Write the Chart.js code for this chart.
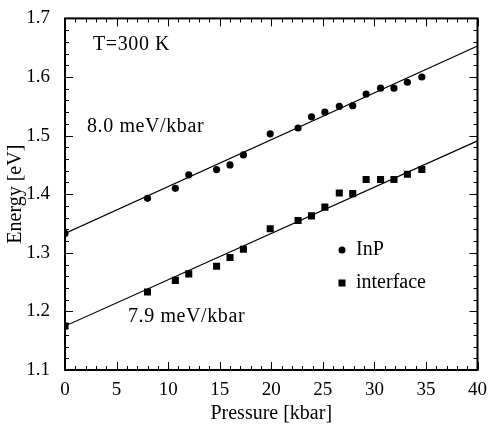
<!DOCTYPE html>
<html>
<head>
<meta charset="utf-8">
<script src="https://cdn.jsdelivr.net/npm/chart.js@4"></script>
<style>
  html, body { margin: 0; padding: 0; background: #fff; }
  #wrap { width: 488px; height: 429px; }
</style>
</head>
<body>
<div id="wrap"><canvas id="mycanvas" width="488" height="429"></canvas></div>
<script>
// pressure (kbar) of each measurement
var pressure = [0, 8.0, 10.7, 12.0, 14.7, 16.0, 17.3, 19.9, 22.6, 23.9, 25.2, 26.6, 27.9, 29.2, 30.6, 31.9, 33.2, 34.6];
// InP gap energy (eV)
var inpEnergy = [1.333, 1.393, 1.410, 1.433, 1.442, 1.450, 1.467, 1.503, 1.513, 1.532, 1.540, 1.550, 1.551, 1.571, 1.581, 1.581, 1.591, 1.600];
// interface transition energy (eV)
var ifEnergy = [1.175, 1.233, 1.253, 1.264, 1.277, 1.292, 1.306, 1.341, 1.355, 1.363, 1.378, 1.402, 1.401, 1.425, 1.425, 1.425, 1.434, 1.442];
// linear fits (8.0 and 7.9 meV/kbar)
var fitPressure = [0, 40];
var inpFit = [1.333, 1.653];
var ifFit = [1.175, 1.491];

var xTicks = [0, 5, 10, 15, 20, 25, 30, 35, 40];
var yTicks = [1.1, 1.2, 1.3, 1.4, 1.5, 1.6, 1.7];

var serif = "'Liberation Serif', 'Times New Roman', serif";

function pts(xs, ys){
	var out = [];
	for (var i in xs) out.push({x: xs[i], y: ys[i]});
	return out;
}

// frame, inward ticks on all four sides, labels and the legend
var frame = {
	id: 'frame',
	afterDatasetsDraw: function(chart){
		var ctx = chart.ctx, a = chart.chartArea;
		var sx = chart.scales.x, sy = chart.scales.y;
		ctx.save();
		ctx.strokeStyle = '#000';
		ctx.lineWidth = 1;
		ctx.beginPath();
		for (var i = 0; i <= 40; i++){
			var px = Math.round(sx.getPixelForValue(i)) + 0.5;
			var len = (i % 5 == 0) ? 8 : 4;
			ctx.moveTo(px, a.bottom); ctx.lineTo(px, a.bottom - len);
			ctx.moveTo(px, a.top); ctx.lineTo(px, a.top + len);
		}
		for (var j = 0; j <= 30; j++){
			var v = 1.1 + j * 0.02;
			var py = Math.round(sy.getPixelForValue(v)) + 0.5;
			var l2 = (j % 5 == 0) ? 8 : 4;
			ctx.moveTo(a.left, py); ctx.lineTo(a.left + l2, py);
			ctx.moveTo(a.right, py); ctx.lineTo(a.right - l2, py);
		}
		ctx.stroke();
		ctx.lineWidth = 2;
		ctx.strokeRect(a.left, a.top, a.right - a.left, a.bottom - a.top);

		ctx.fillStyle = '#000';
		ctx.textBaseline = 'middle';
		ctx.textAlign = 'left';
		ctx.font = '20px ' + serif;
		ctx.letterSpacing = '0.6px';
		ctx.fillText('T=300 K', 93, 45);
		ctx.fillText('8.0 meV/kbar', 87, 127);
		ctx.fillText('7.9 meV/kbar', 128, 317);

		// legend
		ctx.letterSpacing = '0px';
		ctx.font = '20px ' + serif;
		ctx.beginPath();
		ctx.arc(342, 250, 3.5, 0, Math.PI * 2);
		ctx.fill();
		ctx.fillRect(338.5, 279.5, 7, 7);
		ctx.fillText('InP', 356, 250);
		ctx.fillText('interface', 356, 283);
		ctx.restore();
	}
};

var ctx = document.getElementById('mycanvas');
var chart = new Chart(ctx, {
	type: 'scatter',
	data: {
		datasets: [
			{
				label: 'InP fit', type: 'line', data: pts(fitPressure, inpFit),
				borderColor: '#000', borderWidth: 1.2, pointRadius: 0, fill: false
			},
			{
				label: 'interface fit', type: 'line', data: pts(fitPressure, ifFit),
				borderColor: '#000', borderWidth: 1.2, pointRadius: 0, fill: false
			},
			{
				label: 'InP', data: pts(pressure, inpEnergy),
				pointStyle: 'circle', pointRadius: 3.6,
				backgroundColor: '#000', borderColor: '#000', borderWidth: 0
			},
			{
				label: 'interface', data: pts(pressure, ifEnergy),
				pointStyle: 'rect', pointRadius: 5,
				backgroundColor: '#000', borderColor: '#000', borderWidth: 0
			}
		]
	},
	options: {
		responsive: false,
		animation: false,
		layout: { padding: { top: 10, right: 9, left: 0, bottom: 0 } },
		plugins: { legend: { display: false }, tooltip: { enabled: false } },
		scales: {
			x: {
				type: 'linear', min: 0, max: 40,
				afterFit: function(s){ s.height = 59; },
				afterBuildTicks: function(s){ s.ticks = xTicks.map(function(v){ return {value: v}; }); },
				grid: { display: false },
				border: { display: false },
				ticks: { color: '#000', padding: 1, font: { family: serif, size: 19 } },
				title: { display: true, text: 'Pressure [kbar]', color: '#000', padding: { top: 0, bottom: 3 },
					font: { family: serif, size: 20 } }
			},
			y: {
				type: 'linear', min: 1.1, max: 1.7,
				afterFit: function(s){ s.width = 65; },
				afterBuildTicks: function(s){ s.ticks = yTicks.map(function(v){ return {value: v}; }); },
				grid: { display: false },
				border: { display: false },
				ticks: { color: '#000', padding: 7, font: { family: serif, size: 19 },
					callback: function(v){ return v.toFixed(1); } },
				title: { display: true, text: 'Energy [eV]', color: '#000', padding: { top: 4, bottom: 0 },
					font: { family: serif, size: 20 } }
			}
		}
	},
	plugins: [frame]
});
</script>
</body>
</html>
